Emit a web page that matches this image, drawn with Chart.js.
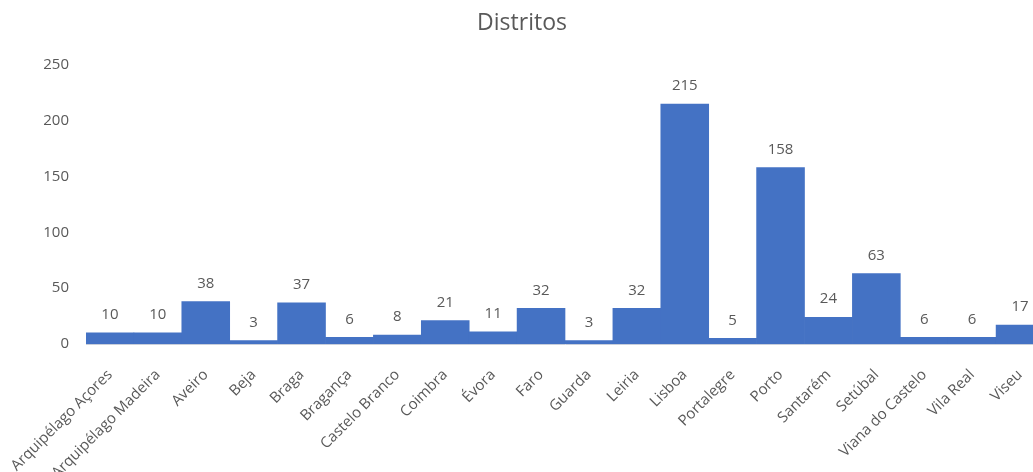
<!DOCTYPE html>
<html>
<head>
<meta charset="utf-8">
<title>Distritos</title>
<script src="https://cdn.jsdelivr.net/npm/chart.js@4/dist/chart.umd.min.js"></script>
<style>
    html, body { margin: 0; padding: 0; background: #fff; overflow: hidden; }
    #wrap { position: relative; width: 1044px; height: 472px; }
</style>
</head>
<body>
<div id="wrap"><canvas id="distritosChart"></canvas></div>
<script>
const distritos = [
    'Arquipélago Açores', 'Arquipélago Madeira', 'Aveiro', 'Beja', 'Braga',
    'Bragança', 'Castelo Branco', 'Coimbra', 'Évora', 'Faro', 'Guarda',
    'Leiria', 'Lisboa', 'Portalegre', 'Porto', 'Santarém', 'Setúbal',
    'Viana do Castelo', 'Vila Real', 'Viseu'
];
const totais = [10, 10, 38, 3, 37, 6, 8, 21, 11, 32, 3, 32, 215, 5, 158, 24, 63, 6, 6, 17];
const yTicks = [0, 50, 100, 150, 200, 250];

const textColor = '#595959';
const fontFamily = '"Open Sans", "Noto Sans", sans-serif';

// writes the value above every bar
const valueLabels = {
    id: 'valueLabels',
    afterDatasetsDraw(chart) {
        const ctx = chart.ctx;
        const meta = chart.getDatasetMeta(0);
        ctx.save();
        ctx.font = '15px ' + fontFamily;
        ctx.fillStyle = textColor;
        ctx.textAlign = 'center';
        ctx.textBaseline = 'middle';
        meta.data.forEach((bar, i) => {
            ctx.fillText(String(totais[i]), bar.x, bar.y - 18);
        });
        ctx.restore();
    }
};

const ctx = document.getElementById('distritosChart').getContext('2d');
const distritosChart = new Chart(ctx, {
    type: 'bar',
    data: {
        labels: distritos,
        datasets: [{
            label: 'Distritos',
            data: totais,
            backgroundColor: '#4472C4',
            borderWidth: 0,
            barPercentage: 1,
            categoryPercentage: 1,
        }],
    },
    options: {
        responsive: true,
        maintainAspectRatio: false,
        animation: false,
        layout: {
            padding: 0,
        },
        plugins: {
            legend: {display: false},
            tooltip: {enabled: false},
            title: {
                display: true,
                text: 'Distritos',
                color: textColor,
                font: {family: fontFamily, size: 23, weight: 'normal', lineHeight: 1},
                padding: {top: 12, bottom: 30},
            },
        },
        scales: {
            x: {
                grid: {display: false, drawTicks: false},
                border: {display: true, color: '#C8CEDA', width: 1},
                ticks: {
                    color: textColor,
                    font: {family: fontFamily, size: 15},
                    maxRotation: 45,
                    minRotation: 45,
                    autoSkip: false,
                    padding: 22,
                },
                afterFit(scale) {
                    // the long first label may run off the left edge
                    scale.height = 128;
                    scale.paddingLeft = 0;
                    scale.paddingRight = 0;
                },
            },
            y: {
                min: 0,
                max: 250,
                grid: {display: false, drawTicks: false},
                border: {display: false},
                afterBuildTicks(scale) {
                    scale.ticks = yTicks.map(v => ({value: v}));
                },
                ticks: {
                    color: textColor,
                    font: {family: fontFamily, size: 15},
                    padding: 17,
                },
                afterFit(scale) {
                    scale.width = 86;
                },
            },
        },
    },
    plugins: [valueLabels],
});
</script>
</body>
</html>
